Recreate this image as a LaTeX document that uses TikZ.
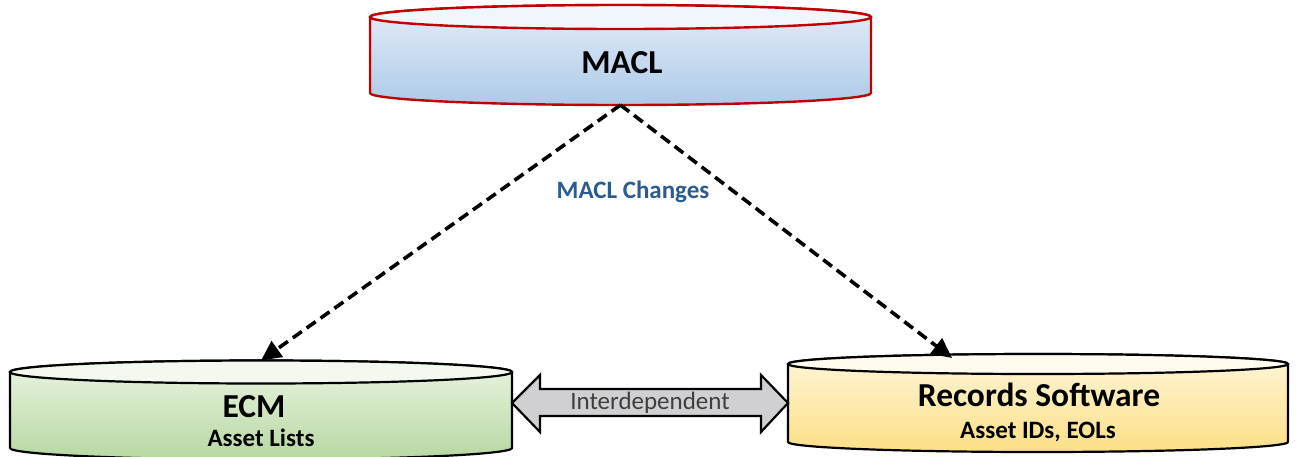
\documentclass[tikz,border=0pt]{standalone}
\usepackage{fontspec}
\setmainfont{Carlito}
\usetikzlibrary{arrows.meta,calc}

\definecolor{maclred}{HTML}{C00000}
\definecolor{maclbodytop}{HTML}{E4EDF8}
\definecolor{maclbodybot}{HTML}{ADCAE8}
\definecolor{macllid}{HTML}{F1F6FC}
\definecolor{ecmbodytop}{HTML}{EAF4E3}
\definecolor{ecmbodybot}{HTML}{B7D8A1}
\definecolor{ecmlid}{HTML}{F3F9EF}
\definecolor{recbodytop}{HTML}{FFF6DA}
\definecolor{recbodybot}{HTML}{FCDF86}
\definecolor{reclid}{HTML}{FFFBEE}
\definecolor{linkgray}{HTML}{D0CFD1}
\definecolor{changeblue}{HTML}{2C5B8E}
\definecolor{linktext}{HTML}{3F3F3F}

% drum: name, cx, y of lid centre, y of base centre, rx, ry, body style, lid style
\newcommand\drum[8]{%
  \path[#7] ({#2-#5},#3) -- ({#2-#5},#4)
    arc[start angle=180,end angle=0,x radius=#5,y radius=#6]
    -- ({#2+#5},#3)
    arc[start angle=0,end angle=-180,x radius=#5,y radius=#6] -- cycle;
  \path[#8] (#2,#3) ellipse[x radius=#5,y radius=#6];
  \node[inner sep=0pt,outer sep=0pt,minimum width={2*#5*1pt},
        minimum height={(#4-#3+2*#6)*1pt}] (#1) at (#2,{(#3+#4)/2}) {};
}

\tikzset{
  maclbody/.style={draw=maclred,line width=2.4pt,line join=round,
    top color=maclbodytop,bottom color=maclbodybot},
  macllidstyle/.style={draw=maclred,line width=2.4pt,fill=macllid},
  ecmbody/.style={draw=black,line width=2.2pt,line join=round,
    top color=ecmbodytop,bottom color=ecmbodybot},
  ecmlidstyle/.style={draw=black,line width=2.2pt,fill=ecmlid},
  recbody/.style={draw=black,line width=2.2pt,line join=round,
    top color=recbodytop,bottom color=recbodybot},
  reclidstyle/.style={draw=black,line width=2.2pt,fill=reclid},
  bigtitle/.style={font=\bfseries\fontsize{33.5}{36}\selectfont,inner sep=0pt},
  subtitle/.style={font=\bfseries\fontsize{25}{28}\selectfont,inner sep=0pt},
  flow/.style={line width=3.6pt,dash pattern=on 11pt off 6pt,
    -{Triangle[length=20pt,width=19pt]}},
  linkarrow/.style={draw=black,line width=2.2pt,line join=miter,fill=linkgray},
}

\begin{document}
\begin{tikzpicture}[x=1pt,y=-1pt]
  \useasboundingbox (0,0) rectangle (1298,456);
  \fill[white] (0,0) rectangle (1298,456);
  \clip (0,0) rectangle (1298,456);

  % the three stores
  \drum{macl}{620.5}{17}{93}{250.5}{12}{maclbody}{macllidstyle}
  \drum{ecm}{261}{372}{448}{251}{11.5}{ecmbody}{ecmlidstyle}
  \drum{rec}{1038}{364}{442}{250}{10}{recbody}{reclidstyle}

  \node[bigtitle] (macltitle) at (622,63) {MACL};
  \node[bigtitle] (ecmtitle) at (254,407) {ECM};
  \node[subtitle] (ecmsub) at (261,438) {Asset Lists};
  \node[bigtitle] (rectitle) at (1039,395) {Records Software};
  \node[subtitle] (recsub) at (1038,432) {Asset IDs, EOLs};

  % MACL changes flowing down
  \coordinate (rectop) at ($(rec.north)+(-86,4)$);
  \draw[flow] (macl.south) -- (ecm.north);
  \draw[flow] (macl.south) -- (rectop);
  \node[font=\bfseries\fontsize{25}{28}\selectfont,text=changeblue,inner sep=0pt]
    (changes) at (633,192) {MACL Changes};

  % two-way link between ECM and the records software
  \coordinate (lt) at (ecm.east |- rec.west);
  \coordinate (rt) at (rec.west);
  \draw[linkarrow] (lt) -- ($(lt)+(28,-28)$) -- ($(lt)+(28,-14)$)
    -- ($(rt)+(-27,-14)$) -- ($(rt)+(-27,-28)$) -- (rt)
    -- ($(rt)+(-27,29)$) -- ($(rt)+(-27,13)$)
    -- ($(lt)+(28,13)$) -- ($(lt)+(28,29)$) -- cycle;
  \node[font=\fontsize{25}{28}\selectfont,text=linktext,inner sep=0pt]
    (linklabel) at ($(lt)!0.5!(rt)$) {Interdependent};
\end{tikzpicture}
\end{document}
